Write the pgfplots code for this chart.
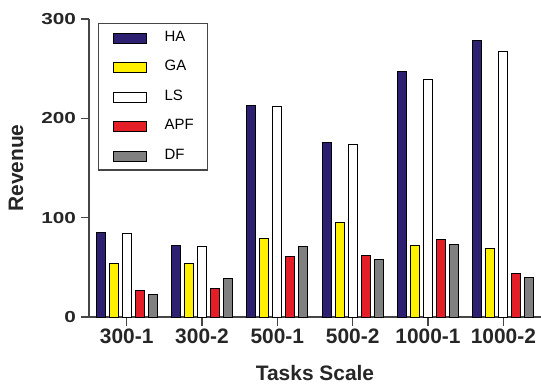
\documentclass[border=0pt]{standalone}
\usepackage{fontspec}
\setmainfont{Liberation Sans}
\usepackage{pgfplots}
\pgfplotsset{compat=1.18}
\definecolor{cHA}{RGB}{46,32,112}
\definecolor{cGA}{RGB}{255,240,0}
\definecolor{cLS}{RGB}{255,255,255}
\definecolor{cAPF}{RGB}{228,30,38}
\definecolor{cDF}{RGB}{128,128,128}
\definecolor{axc}{RGB}{70,70,70}
\begin{document}
\begin{tikzpicture}
\begin{axis}[
  scale only axis, width=452bp, height=298bp,
  xmin=-0.5, xmax=5.5, ymin=0, ymax=300,
  axis x line=bottom, axis y line=left,
  axis line style={-, line width=1.4bp, draw=axc},
  ybar, bar width=0.12,
  xtick={0,1,2,3,4,5},
  xticklabels={300-1,300-2,500-1,500-2,1000-1,1000-2},
  ytick={0,100,200,300},
  tick align=outside, major tick length=8.5bp,
  tick style={line width=1.4bp, draw=axc},
  /pgf/number format/assume math mode=true,
  xticklabel style={font=\fontsize{21}{21}\selectfont\bfseries, text=black!85},
  yticklabel style={font=\fontsize{16}{16}\selectfont\bfseries, xscale=1.3, text=black!85},
  xlabel={Tasks Scale}, ylabel={Revenue},
  label style={font=\fontsize{21}{21}\selectfont\bfseries, text=black!85},
  xlabel style={at={(axis description cs:0.5,-0.2114)}, anchor=base},
  ylabel style={at={(axis description cs:-0.1615,0.5)}, anchor=center},
  legend image code/.code={\draw[#1] (0bp,-7bp) rectangle (33bp,3bp);},
  legend cell align=left,
  legend style={at={(axis description cs:0.02,0.987)}, anchor=north west,
    draw=axc, line width=1.2bp, font=\fontsize{15}{15}\selectfont,
    inner xsep=14bp, inner ysep=8bp, row sep=17bp, column sep=18bp,
    nodes={inner sep=0pt, text height=10bp, text depth=0pt}},
]
\addplot[fill=cHA, draw=black, line width=1bp, bar shift=-0.3467] coordinates {(0,85) (1,72) (2,213) (3,176) (4,247) (5,278)};
\addplot[fill=cGA, draw=black, line width=1bp, bar shift=-0.1733] coordinates {(0,54) (1,54) (2,79) (3,95) (4,72) (5,69)};
\addplot[fill=cLS, draw=black, line width=1bp, bar shift=0] coordinates {(0,84) (1,71) (2,212) (3,174) (4,239) (5,267)};
\addplot[fill=cAPF, draw=black, line width=1bp, bar shift=0.1733] coordinates {(0,27) (1,29) (2,61) (3,62) (4,78) (5,44)};
\addplot[fill=cDF, draw=black, line width=1bp, bar shift=0.3467] coordinates {(0,23) (1,39) (2,71) (3,58) (4,73) (5,40)};
\legend{HA,GA,LS,APF,DF}
\coordinate (O) at (rel axis cs:0,0);
\coordinate (TR) at (rel axis cs:1,1);
\end{axis}
\pgfresetboundingbox
\useasboundingbox (O) ++(-89bp,-68bp) rectangle ([shift={(0bp,19bp)}]TR);
\end{tikzpicture}
\end{document}
